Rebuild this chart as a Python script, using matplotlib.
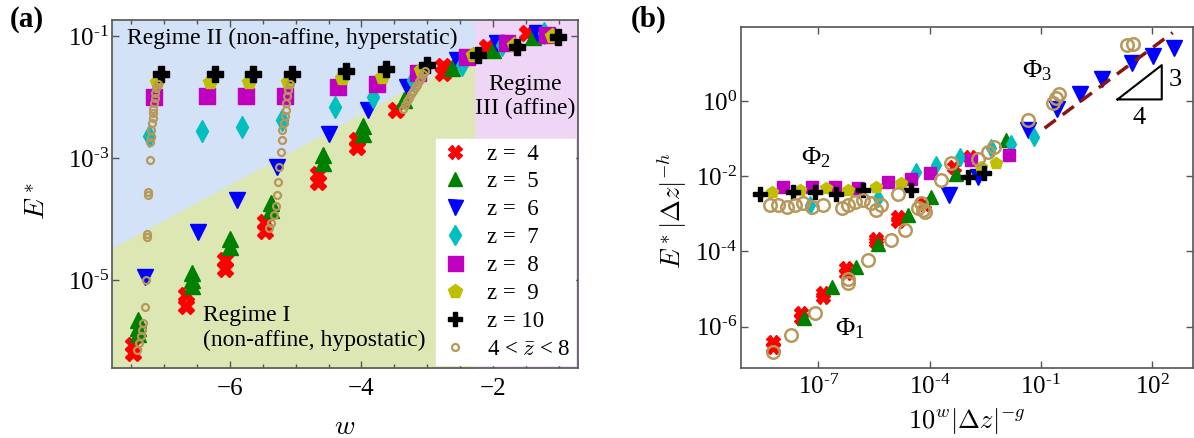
import numpy as np
import matplotlib
matplotlib.use('Agg')
import matplotlib.pyplot as plt
from matplotlib.ticker import FixedLocator, FixedFormatter, NullLocator, MultipleLocator
from matplotlib.lines import Line2D

# serif (Times-like) text; math in the same serif, axis labels switched to computer modern below
plt.rcParams.update({'font.size': 16, 'font.family': 'Liberation Serif'})
plt.rcParams.update({'mathtext.fontset': 'custom', 'mathtext.rm': 'Liberation Serif',
                     'mathtext.it': 'Liberation Serif:italic', 'mathtext.bf': 'Liberation Serif:bold'})

# ---------------- panel (a): E* vs w (E* stored as log10) ----------------
a_z4_w = [-7.47, -7.47, -6.67, -6.67, -6.08, -6.08, -5.47, -5.47, -4.66, -4.66, -4.07, -4.07, -3.47,
          -2.76, -2.76, -2.10, -1.49]
a_z4_logE = [-6.06, -6.20, -5.25, -5.42, -4.67, -4.82, -4.05, -4.20, -3.27, -3.40, -2.70, -2.82, -2.21,
             -1.50, -1.60, -1.18, -0.96]
a_z5_w = [-7.39, -7.39, -7.39, -6.57, -6.57, -6.57, -5.99, -5.99, -5.37, -5.37, -4.58, -4.58, -3.97, -3.97,
          -3.36, -2.63, -2.00, -1.39]
a_z5_logE = [-5.66, -5.78, -5.88, -4.88, -5.00, -5.10, -4.33, -4.45, -3.73, -3.85, -2.95, -3.08, -2.48, -2.60,
             -2.05, -1.53, -1.23, -1.01]
a_z6_w = [-7.29, -6.49, -5.89, -5.29, -4.49, -3.90, -3.31, -2.55, -1.94, -1.34]
a_z6_logE = [-4.95, -4.22, -3.69, -3.14, -2.60, -2.21, -1.83, -1.39, -1.12, -0.96]
a_z7_w = [-7.23, -6.42, -5.82, -5.21, -4.40, -3.82, -3.21, -2.48, -1.87, -1.23]
a_z7_logE = [-2.64, -2.55, -2.50, -2.38, -2.17, -2.00, -1.72, -1.48, -1.15, -0.96]
a_z8_w = [-7.15, -6.35, -5.75, -5.16, -4.35, -3.76, -3.14, -2.40, -1.79, -1.18]
a_z8_logE = [-2.00, -1.99, -1.99, -1.99, -1.83, -1.78, -1.61, -1.34, -1.12, -0.98]
a_z9_w = [-7.10, -6.30, -5.71, -5.11, -4.30, -3.69, -3.09, -2.30, -1.69, -1.11]
a_z9_logE = [-1.75, -1.75, -1.75, -1.75, -1.69, -1.67, -1.56, -1.31, -1.15, -1.00]
a_z10_w = [-7.04, -6.23, -5.65, -5.06, -4.23, -3.62, -3.01, -2.23, -1.64, -1.01]
a_z10_logE = [-1.62, -1.62, -1.62, -1.62, -1.57, -1.55, -1.48, -1.31, -1.18, -1.01]
# 4 < zbar < 8 (open circles)
a_mix_w = [-7.09, -7.12, -7.13, -7.14, -7.15, -7.16, -7.17, -7.17, -7.18, -7.19, -7.20, -7.21, -7.22,
           -7.25, -7.25, -7.26, -7.26, -7.28, -7.29, -7.32, -7.33, -7.35, -7.38, -7.41,
           -5.09, -5.11, -5.13, -5.14, -5.15, -5.16, -5.18, -5.20, -5.21, -5.22, -5.26, -5.27, -5.29,
           -5.30, -5.33, -5.37, -5.40,
           -3.04, -3.07, -3.10, -3.13, -3.16, -3.19, -3.22, -3.25, -3.28, -3.31, -3.34, -3.37]
a_mix_logE = [-1.78, -1.86, -1.94, -2.02, -2.10, -2.19, -2.27, -2.35, -2.43, -2.54, -2.65, -2.73, -3.03,
              -3.55, -3.61, -4.25, -4.29, -5.00, -5.44, -5.71, -5.82, -5.92, -6.03, -6.15,
              -1.78, -1.89, -1.99, -2.10, -2.21, -2.32, -2.43, -2.54, -2.70, -2.90, -3.14, -3.39, -3.61,
              -3.79, -3.93, -4.06, -4.15,
              -1.57, -1.63, -1.69, -1.74, -1.80, -1.85, -1.91, -1.96, -2.02, -2.07, -2.13, -2.19]
# regime boundaries
a_regime1_w = [-7.79, -2.27]
a_regime1_logE = [-4.475, -1.27]
a_regime3_w = -2.27

# ---------------- panel (b): collapsed data (log10 of both axes) ----------------
b_z4_logx = [-8.21, -8.21, -7.45, -7.45, -6.86, -6.86, -6.24, -6.24, -5.43, -5.43, -4.85, -4.85, -4.15, -3.33, -2.92]
b_z4_logy = [-6.40, -6.55, -5.65, -5.76, -5.10, -5.20, -4.45, -4.58, -3.66, -3.76, -3.08, -3.18, -2.74, -1.75, -1.48]
b_z5_logx = [-7.38, -6.62, -5.97, -5.39, -4.58, -3.95, -3.30, -1.94]
b_z5_logy = [-5.78, -4.94, -4.41, -3.79, -3.03, -2.54, -1.95, -1.04]
b_z6_logx = [-3.48, -2.70, -1.35, -0.57, 0.06, 0.64, 1.45, 2.03, 2.59]
b_z6_logy = [-2.50, -2.01, -0.77, -0.20, 0.18, 0.58, 1.02, 1.20, 1.42]
b_z7_logx = [-7.22, -5.39, -4.36, -3.82, -3.19, -2.34, -1.80, -1.18]
b_z7_logy = [-2.77, -2.59, -1.88, -1.70, -1.48, -1.26, -1.13, -0.95]
b_z8_logx = [-7.94, -7.18, -6.55, -5.92, -5.12, -4.49, -4.00, -2.88, -1.85]
b_z8_logy = [-2.28, -2.28, -2.28, -2.32, -2.15, -2.06, -1.92, -1.57, -1.44]
b_z9_logx = [-8.25, -7.50, -6.78, -6.19, -5.43, -4.76, -2.61, -2.21]
b_z9_logy = [-2.41, -2.37, -2.32, -2.37, -2.28, -2.19, -1.75, -1.66]
b_z10_logx = [-8.57, -7.67, -7.09, -6.51, -5.79, -4.49, -2.97, -2.52]
b_z10_logy = [-2.46, -2.41, -2.41, -2.46, -2.37, -2.37, -2.01, -1.92]
b_mix_logx = [-8.21, -7.72, -7.09, -6.19, -6.19, -5.66, -5.03, -4.67, -4.18,
              -8.30, -8.07, -7.85, -7.63, -7.40, -7.18, -6.86, -6.37, -6.19, -6.01, -5.79, -5.57, -5.43,
              -5.30, -4.85, -4.31, -4.13, -4.22,
              -3.68, -3.42, -2.70, -2.43, -2.25, -1.35, -0.68, -0.59, -0.50, 1.33, 1.47]
b_mix_logy = [-6.67, -6.22, -5.65, -4.72, -4.85, -4.23, -3.70, -3.43, -2.90,
              -2.77, -2.77, -2.81, -2.77, -2.72, -2.81, -2.77, -2.85, -2.77, -2.68, -2.63, -2.72, -2.90,
              -2.77, -2.46, -2.85, -2.94, -2.72,
              -2.10, -1.66, -1.53, -1.35, -1.22, -0.51, -0.06, 0.07, 0.20, 1.49, 1.53]
# slope 3/4 guide line
b_fit_logx = [-0.90, 2.55]
b_fit_logy = [-0.72, 1.82]

labels = ['z =  4', 'z =  5', 'z =  6', 'z =  7', 'z =  8', 'z =  9', 'z = 10', r'4 < $\bar{z}$ < 8']
colors = ['#ff0000', '#008000', '#0000ff', '#00bfbf', '#bf00bf', '#bfbf00', '#000000', '#b8985a']
markers = ['X', '^', 'v', 'd', 's', 'p', 'P', 'o']
a_sizes = [11, 11, 12, 11, 12, 11, 11, 5]
b_sizes = [9.5, 10, 12, 9, 9, 9, 9.5, 9]

a_data = [(a_z4_w, a_z4_logE), (a_z5_w, a_z5_logE), (a_z6_w, a_z6_logE), (a_z7_w, a_z7_logE),
          (a_z8_w, a_z8_logE), (a_z9_w, a_z9_logE), (a_z10_w, a_z10_logE), (a_mix_w, a_mix_logE)]
b_data = [(b_z4_logx, b_z4_logy), (b_z5_logx, b_z5_logy), (b_z6_logx, b_z6_logy), (b_z7_logx, b_z7_logy),
          (b_z8_logx, b_z8_logy), (b_z9_logx, b_z9_logy), (b_z10_logx, b_z10_logy), (b_mix_logx, b_mix_logy)]

fig = plt.figure(figsize=(11.94, 4.38), dpi=100)
ax1 = fig.add_axes([0.0938, 0.1598, 0.3903, 0.7945])
ax2 = fig.add_axes([0.6206, 0.1598, 0.3786, 0.7785])

spine_col = '#555555'
for ax in (ax1, ax2):
    for s in ax.spines.values():
        s.set_color(spine_col)
        s.set_linewidth(1.2)
    ax.set_yscale('log')
    ax.tick_params(which='both', direction='in', top=True, right=True, color=spine_col, labelsize=18)
    ax.tick_params(which='major', length=5, width=1)
    ax.tick_params(which='minor', length=3, width=1)


def pow_label(e):
    return r'$\mathrm{10^{' + ('\u2010' + str(-e) if e < 0 else str(e)) + r'}}$'


# ----- panel (a) -----
ax1.set_facecolor('#d3e2f7')
ax1.set_xlim(-7.79, -0.71)
ax1.set_ylim(10 ** -6.44, 10 ** -0.74)
ax1.fill_between(a_regime1_w, 10.0 ** np.array(a_regime1_logE), 1e-8, color='#dde7b4', lw=0, zorder=0)
ax1.axvspan(a_regime3_w, 0, color='#efd6f6', lw=0, zorder=0)

handles = []
for (xs, ys), lab, c, m, ms in zip(a_data, labels, colors, markers, a_sizes):
    if m == 'o':
        ax1.plot(xs, 10.0 ** np.array(ys), ls='none', marker=m, ms=ms, mfc='none', mec=c, mew=1.6, zorder=3)
        handles.append(Line2D([], [], ls='none', marker=m, ms=ms, mfc='none', mec=c, mew=1.6, label=lab))
    else:
        ax1.plot(xs, 10.0 ** np.array(ys), ls='none', marker=m, ms=ms, color=c, mec=c, zorder=2)
        handles.append(Line2D([], [], ls='none', marker=m, ms=ms * 0.9, color=c, label=lab))

ax1.xaxis.set_major_locator(MultipleLocator(2))
ax1.xaxis.set_minor_locator(MultipleLocator(0.5))
a_yticks = [-5, -3, -1]
ax1.yaxis.set_major_locator(FixedLocator([10.0 ** e for e in a_yticks]))
ax1.yaxis.set_major_formatter(FixedFormatter([pow_label(e) for e in a_yticks]))
ax1.yaxis.set_minor_locator(NullLocator())
ax1.tick_params(axis='y', pad=2)
ax1.tick_params(axis='x', pad=7)
ax1.set_xlabel(r'$w$', fontsize=20)
ax1.set_ylabel(r'$E^*$', fontsize=20)
ax1.xaxis.label.set_math_fontfamily('cm')
ax1.yaxis.label.set_math_fontfamily('cm')
ax1.xaxis.set_label_coords(0.5, -0.135)
ax1.yaxis.set_label_coords(-0.13, 0.48)

ax1.text(0.032, 0.948, 'Regime II (non-affine, hyperstatic)', transform=ax1.transAxes, fontsize=17,
         ha='left', va='center')
ax1.text(0.886, 0.78, 'Regime\nIII (affine)', transform=ax1.transAxes, fontsize=17,
         ha='center', va='center', linespacing=1.2)
ax1.text(0.195, 0.115, 'Regime I\n(non-affine, hypostatic)', transform=ax1.transAxes, fontsize=17,
         ha='left', va='center', linespacing=1.2)
leg = ax1.legend(handles=handles, loc='lower right', fontsize=16.5, frameon=True, fancybox=False,
                 framealpha=1, edgecolor='white', borderaxespad=0.15, handletextpad=0.8,
                 labelspacing=0.3, handlelength=1.2, borderpad=0.2)
leg.get_texts()[-1].set_math_fontfamily('cm')
leg.set_zorder(5)

# ----- panel (b) -----
ax2.set_xscale('log')
ax2.set_xlim(10 ** -9.08, 10 ** 3.10)
ax2.set_ylim(10 ** -7.10, 10 ** 1.97)
for (xs, ys), c, m, ms in zip(b_data, colors, markers, b_sizes):
    if m == 'o':
        ax2.plot(10.0 ** np.array(xs), 10.0 ** np.array(ys), ls='none', marker=m, ms=ms, mfc='none', mec=c,
                 mew=1.8, zorder=3)
    else:
        ax2.plot(10.0 ** np.array(xs), 10.0 ** np.array(ys), ls='none', marker=m, ms=ms, color=c, mec=c, zorder=2)
ax2.plot(10.0 ** np.array(b_fit_logx), 10.0 ** np.array(b_fit_logy), ls=(0, (4, 2.5)), color='#8b1414', lw=2.5,
         zorder=4)
# slope triangle
tri_logx = [1.065, 2.257, 2.257, 1.065]
tri_logy = [0.044, 0.044, 0.957, 0.044]
ax2.plot(10.0 ** np.array(tri_logx), 10.0 ** np.array(tri_logy), color='black', lw=1.5, zorder=4)
ax2.text(10 ** 2.63, 10 ** 0.56, '3', fontsize=19, ha='center', va='center')
ax2.text(10 ** 1.65, 10 ** -0.46, '4', fontsize=19, ha='center', va='center')
ax2.text(10 ** -7.06, 10 ** -1.5, r'$\Phi_2$', fontsize=19, ha='center', va='center')
ax2.text(10 ** -6.15, 10 ** -6.05, r'$\Phi_1$', fontsize=19, ha='center', va='center')
ax2.text(10 ** -1.1, 10 ** 0.8, r'$\Phi_3$', fontsize=19, ha='center', va='center')

b_xticks = [-7, -4, -1, 2]
b_yticks = [-6, -4, -2, 0]
ax2.xaxis.set_major_locator(FixedLocator([10.0 ** e for e in b_xticks]))
ax2.xaxis.set_major_formatter(FixedFormatter([pow_label(e) for e in b_xticks]))
ax2.yaxis.set_major_locator(FixedLocator([10.0 ** e for e in b_yticks]))
ax2.yaxis.set_major_formatter(FixedFormatter([pow_label(e) for e in b_yticks]))
ax2.xaxis.set_minor_locator(NullLocator())
ax2.yaxis.set_minor_locator(NullLocator())
ax2.tick_params(axis='y', pad=3)
ax2.tick_params(axis='x', pad=5)
ax2.set_xlabel(r'$10^w|\Delta z|^{-g}$', fontsize=19)
ax2.set_ylabel(r'$E^*|\Delta z|^{-h}$', fontsize=19)
ax2.xaxis.label.set_math_fontfamily('cm')
ax2.yaxis.label.set_math_fontfamily('cm')
ax2.xaxis.set_label_coords(0.5, -0.112)
ax2.yaxis.set_label_coords(-0.114, 0.46)

fig.text(0.008, 0.955, '(a)', fontsize=21, fontweight='bold', ha='left', va='center')
fig.text(0.528, 0.955, '(b)', fontsize=21, fontweight='bold', ha='left', va='center')

fig.savefig('out.png', dpi=100)
